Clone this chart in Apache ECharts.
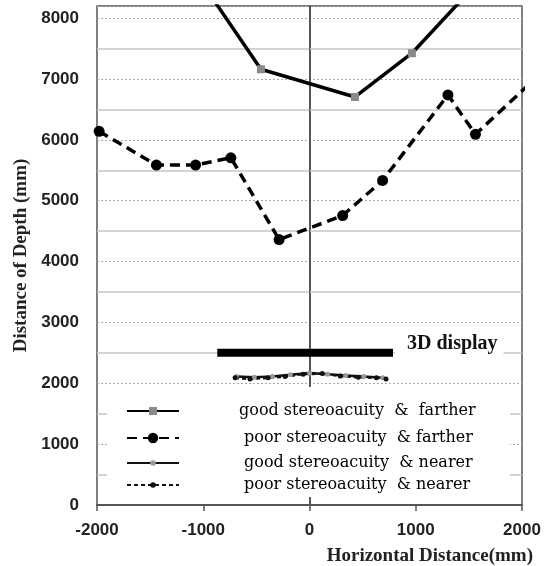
<!DOCTYPE html>
<html>
<head>
<meta charset="utf-8">
<script src="https://cdn.jsdelivr.net/npm/echarts@6/dist/echarts.min.js"></script>
<style>html,body{margin:0;padding:0;background:#fff}#c{width:549px;height:566px}</style>
</head>
<body>
<div id="c"></div>
<script>
// ---- data ----
const seriesNames = ['good stereoacuity  &  farther', 'poor stereoacuity  & farther', 'good stereoacuity  & nearer', 'poor stereoacuity  & nearer'];
const goodFarX = [-1000, -457, 428, 964, 1500];
const goodFarY = [8550, 7160, 6705, 7424, 8430];
const poorFarX = [-1980, -1441, -1072, -740, -286, 312, 688, 1303, 1562, 2150];
const poorFarY = [6140, 5586, 5586, 5706, 4362, 4757, 5333, 6738, 6091, 7048];
const goodNearX = [-690, -520, -350, -180, 0, 170, 340, 510, 690];
const goodNearY = [2110, 2100, 2110, 2140, 2170, 2150, 2130, 2110, 2090];
const poorNearX = [-700, -560, -390, -230, -60, 120, 290, 460, 630, 720];
const poorNearY = [2090, 2070, 2090, 2110, 2150, 2160, 2120, 2100, 2090, 2070];
const displayX = [-868, 786];
const displayY = 2500;
const displayLabel = '3D display';
const xTicks = [-2000, -1000, 0, 1000, 2000];
const yMinorLines = [500, 1500, 2500, 3500, 4500, 5500, 6500, 7500];

const pair = (xs, ys) => xs.map((x, i) => [x, Array.isArray(ys) ? ys[i] : ys]);
const serif = 'Liberation Serif';
const sans = 'Liberation Sans';

const markLineData = yMinorLines.map(v => ({ yAxis: v, lineStyle: { color: '#c6c6c6', width: 1.5, type: 'solid' } }))
  .concat([{ xAxis: 0, lineStyle: { color: '#555', width: 1, type: 'solid' } }]);

const legendRows = [412, 439, 464, 486];
const legendTextPad = [55, 60, 60, 60];
const legendIconH = [10, 13, 7, 7];
const legends = seriesNames.map((n, i) => ({
  data: [n], orient: 'vertical', left: 126, top: legendRows[i] - 9, padding: 0,
  itemWidth: 52, itemHeight: legendIconH[i], z: 20, selectedMode: false,
  textStyle: { fontFamily: 'DejaVu Serif', fontSize: 16, color: '#000', padding: [0, 0, 0, legendTextPad[i]] }
}));

const chart = echarts.init(document.getElementById('c'), null, { renderer: 'canvas' });
chart.setOption({
  animation: false,
  backgroundColor: '#fff',
  grid: { left: 97, right: 27, top: 6, bottom: 61, show: true, borderColor: '#555', borderWidth: 1.5, containLabel: false, outerBoundsMode: 'none' },
  legend: legends,
  graphic: [{ type: 'rect', left: 107, top: 387, shape: { width: 403, height: 110 }, style: { fill: '#fff' }, z: 10, silent: true }],
  xAxis: {
    type: 'value', min: xTicks[0], max: xTicks[xTicks.length - 1], interval: 1000,
    axisLine: { show: true, onZero: false, lineStyle: { color: '#555', width: 2 } },
    axisTick: { show: true, length: 6, lineStyle: { color: '#555', width: 1.5 } },
    axisLabel: { fontFamily: sans, fontWeight: 'bold', fontSize: 17, color: '#222', margin: 17, formatter: v => String(v) },
    splitLine: { show: false },
    name: 'Horizontal Distance(mm)', nameLocation: 'end', nameGap: 11,
    nameTextStyle: { fontFamily: serif, fontWeight: 'bold', fontSize: 19, color: '#222', align: 'right', verticalAlign: 'top', padding: [42, 0, 0, 0] }
  },
  yAxis: {
    type: 'value', min: 0, max: 8200, interval: 1000,
    axisLine: { show: true, lineStyle: { color: '#555', width: 2 } },
    axisTick: { show: false },
    axisLabel: { fontFamily: sans, fontWeight: 'bold', fontSize: 17, color: '#222', margin: 18, showMaxLabel: false, formatter: v => String(v) },
    splitLine: { show: true, lineStyle: { color: '#a8a8a8', width: 1, type: [2, 2] } },
    name: 'Distance of Depth (mm)', nameLocation: 'middle', nameGap: 66,
    nameTextStyle: { fontFamily: serif, fontWeight: 'bold', fontSize: 19, color: '#222', padding: [0, 0, 0, 0] }
  },
  series: [
    {
      name: 'grid-helper', type: 'line', data: [], silent: true, z: 1,
      markLine: { silent: true, z: 1, symbol: 'none', label: { show: false }, data: markLineData }
    },
    {
      name: displayLabel, type: 'line', data: pair(displayX, displayY), symbol: 'none', z: 3,
      lineStyle: { color: '#000', width: 8, cap: 'butt' }, silent: true,
      endLabel: { show: true, formatter: displayLabel, distance: 2, offset: [0, -9], padding: [2, 6, 4, 12], backgroundColor: '#fff',
        fontFamily: serif, fontWeight: 'bold', fontSize: 20, color: '#111' }
    },
    {
      name: seriesNames[0], type: 'line', data: pair(goodFarX, goodFarY), z: 3,
      symbol: 'rect', symbolSize: 8, itemStyle: { color: '#8a8a8a' },
      lineStyle: { color: '#000', width: 3.5, type: 'solid' }, clip: true
    },
    {
      name: seriesNames[1], type: 'line', data: pair(poorFarX, poorFarY), z: 3,
      symbol: 'circle', symbolSize: 11, itemStyle: { color: '#000' },
      lineStyle: { color: '#000', width: 3.5, type: [10, 6] }, clip: true
    },
    {
      name: seriesNames[2], type: 'line', data: pair(goodNearX, goodNearY), z: 3,
      symbol: 'circle', symbolSize: 5, itemStyle: { color: '#999' },
      lineStyle: { color: '#111', width: 2.5, type: 'solid' }
    },
    {
      name: seriesNames[3], type: 'line', data: pair(poorNearX, poorNearY), z: 3,
      symbol: 'circle', symbolSize: 5, itemStyle: { color: '#111' },
      lineStyle: { color: '#111', width: 2.5, type: [4, 3] }
    }
  ]
});
</script>
</body>
</html>
